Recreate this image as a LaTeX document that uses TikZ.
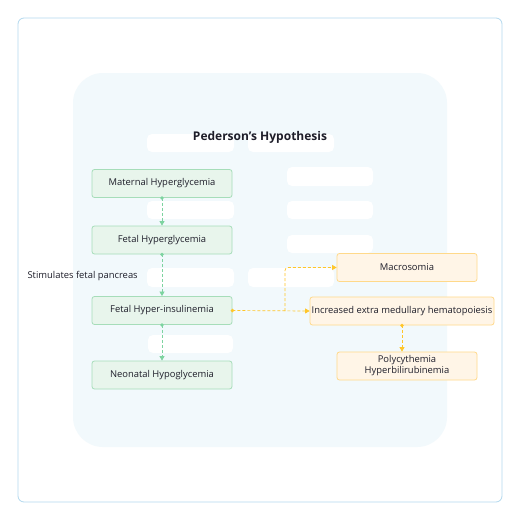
\documentclass[tikz,border=0pt]{standalone}
\usepackage{fontspec}
\setmainfont{Open Sans}
\usetikzlibrary{arrows.meta}
\definecolor{outerline}{HTML}{B3D9EE}
\definecolor{panel}{HTML}{F2F9FC}
\definecolor{gfill}{HTML}{E8F5EC}
\definecolor{gline}{HTML}{A6DDB9}
\definecolor{garrow}{HTML}{7DD3A0}
\definecolor{ofill}{HTML}{FFF5E7}
\definecolor{oline}{HTML}{FFD98A}
\definecolor{oarrow}{HTML}{FFC629}
\definecolor{txt}{HTML}{1E1E2A}
\tikzset{
  gbox/.style={draw=gline, fill=gfill, rounded corners=2.5pt, line width=0.8pt, minimum width=140pt, minimum height=28pt, font=\fontsize{9.4}{11}\selectfont, text=txt, align=center, inner sep=1pt},
  obox/.style={draw=oline, fill=ofill, rounded corners=2.5pt, line width=0.8pt, minimum height=28pt, font=\fontsize{9.4}{11}\selectfont, text=txt, align=center, inner sep=1pt},
  blank/.style={fill=white, rounded corners=5pt},
  garr/.style={draw=garrow, line width=0.7pt, dash pattern=on 3pt off 2pt, arrows={-Triangle[length=4.5pt,width=5pt]}},
  oarr/.style={draw=oarrow, line width=0.7pt, dash pattern=on 3pt off 2pt, arrows={-Triangle[length=4.5pt,width=5pt]}},
  gdot/.style={fill=garrow},
  odot/.style={fill=oarrow},
}
\begin{document}
\begin{tikzpicture}[x=1pt,y=-1pt]
\useasboundingbox (0,0) rectangle (520,520);
\fill[white] (0,0) rectangle (520,520);
\draw[outerline, line width=0.8pt, rounded corners=6pt] (18,18) rectangle (502,502);
\fill[panel, rounded corners=30pt] (73,73) rectangle (447,447);
% blank label placeholders
\fill[blank] (147,134) rectangle (234,152);
\fill[blank] (248,134) rectangle (334,152);
\fill[blank] (287,167) rectangle (373,186);
\fill[blank] (147,201) rectangle (234,219);
\fill[blank] (287,201) rectangle (373,219);
\fill[blank] (287,235) rectangle (373,253);
\fill[blank] (147,268) rectangle (234,287);
\fill[blank] (248,268) rectangle (334,287);
\fill[blank] (148,335) rectangle (233,353);
\node[font=\bfseries\fontsize{12}{14}\selectfont, text=txt] (title) at (260,137) {Pederson's Hypothesis};
\node[gbox] (mh) at (162,183.5) {Maternal Hyperglycemia};
\node[gbox] (fh) at (162,240) {Fetal Hyperglycemia};
\node[gbox] (fi) at (162,310.5) {Fetal Hyper-insulinemia};
\node[gbox] (nh) at (162,375) {Neonatal Hypoglycemia};
\node[obox, minimum width=140pt] (ma) at (407,267.5) {Macrosomia};
\node[obox, minimum width=184pt] (ie) at (402,311) {Increased extra medullary hematopoiesis};
\node[obox, minimum width=140pt] (po) at (407,366) {Polycythemia\\Hyperbilirubinemia};
\node[anchor=west, font=\fontsize{9.4}{11}\selectfont, text=txt] (st) at (24,276) {Stimulates fetal pancreas};
\draw[garr] (mh.south) -- (fh.north);
\draw[garr] (fh.south) -- (fi.north);
\draw[garr] (fi.south) -- (nh.north);
\draw[oarr] (fi.east) -- (ie.west);
\coordinate (br) at (285,311);
\draw[oarr, rounded corners=3pt] (br) |- (ma.west);
\draw[oarr] (ie.south) -- (ie.south |- po.north);
\fill[gdot] (mh.south) circle (1.9pt);
\fill[gdot] (fh.south) circle (1.9pt);
\fill[gdot] (fi.south) circle (1.9pt);
\fill[odot] (fi.east) circle (1.9pt);
\fill[odot] (ie.south) circle (1.9pt);
\end{tikzpicture}
\end{document}
